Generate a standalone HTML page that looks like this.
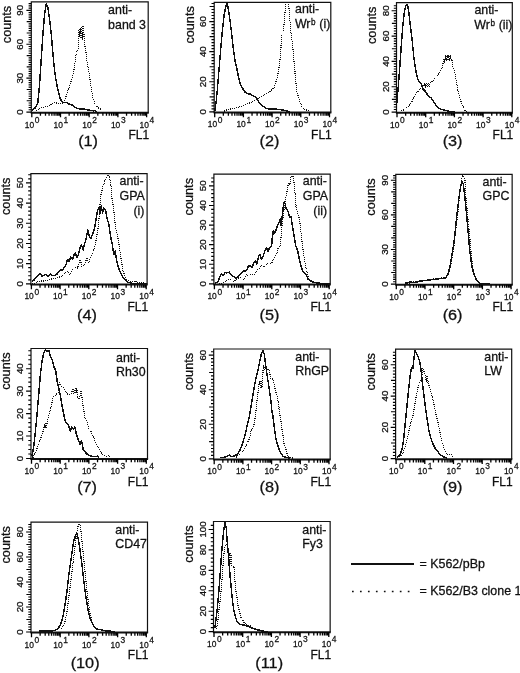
<!DOCTYPE html>
<html lang="en"><head><meta charset="utf-8"><title>Flow cytometry histograms</title>
<style>html,body{margin:0;padding:0;background:#fff}body{width:520px;height:673px;overflow:hidden}svg{display:block}text{font-family:"Liberation Sans", Arial, Helvetica, sans-serif;fill:#111;stroke:#111;stroke-width:0.28px}</style></head><body>
<svg width="520" height="673" viewBox="0 0 520 673">
<rect width="520" height="673" fill="#fff"/>
<g id="panel1">
<path d="M31.3 112.75 V1.9 H148.2 V112.75" fill="none" stroke="#111" stroke-width="1.2"/>
<path d="M30.7 112.7 H148.8" fill="none" stroke="#111" stroke-width="2"/>
<path d="M31.3 112.05h-4.9M31.3 109.79h-2.7M31.3 107.53h-2.7M31.3 105.27h-2.7M31.3 103.01h-2.7M31.3 100.75h-4.6M31.3 98.49h-2.7M31.3 96.23h-2.7M31.3 93.97h-2.7M31.3 91.71h-2.7M31.3 89.45h-4.6M31.3 87.19h-2.7M31.3 84.93h-2.7M31.3 82.67h-2.7M31.3 80.41h-2.7M31.3 78.15h-4.9M31.3 75.89h-2.7M31.3 73.63h-2.7M31.3 71.37h-2.7M31.3 69.11h-2.7M31.3 66.85h-4.6M31.3 64.59h-2.7M31.3 62.33h-2.7M31.3 60.07h-2.7M31.3 57.81h-2.7M31.3 55.55h-4.6M31.3 53.29h-2.7M31.3 51.03h-2.7M31.3 48.77h-2.7M31.3 46.51h-2.7M31.3 44.25h-4.9M31.3 41.99h-2.7M31.3 39.73h-2.7M31.3 37.47h-2.7M31.3 35.21h-2.7M31.3 32.95h-4.6M31.3 30.69h-2.7M31.3 28.43h-2.7M31.3 26.17h-2.7M31.3 23.91h-2.7M31.3 21.65h-4.6M31.3 19.39h-2.7M31.3 17.13h-2.7M31.3 14.87h-2.7M31.3 12.61h-2.7M31.3 10.35h-4.9M31.3 8.09h-2.7M31.3 5.83h-2.7M31.3 3.57h-2.7" fill="none" stroke="#000" stroke-width="1.15"/>
<path d="M31.8 112.75v4.6M40.44 112.75v3.1M45.49 112.75v3.1M49.08 112.75v3.1M51.86 112.75v3.1M54.13 112.75v3.1M56.05 112.75v3.1M57.72 112.75v3.1M59.19 112.75v3.1M60.5 112.75v4.6M69.14 112.75v3.1M74.19 112.75v3.1M77.78 112.75v3.1M80.56 112.75v3.1M82.83 112.75v3.1M84.75 112.75v3.1M86.42 112.75v3.1M87.89 112.75v3.1M89.2 112.75v4.6M97.84 112.75v3.1M102.89 112.75v3.1M106.48 112.75v3.1M109.26 112.75v3.1M111.53 112.75v3.1M113.45 112.75v3.1M115.12 112.75v3.1M116.59 112.75v3.1M117.9 112.75v4.6M126.54 112.75v3.1M131.59 112.75v3.1M135.18 112.75v3.1M137.96 112.75v3.1M140.23 112.75v3.1M142.15 112.75v3.1M143.82 112.75v3.1M145.29 112.75v3.1M146.6 112.75v4.6" fill="none" stroke="#000" stroke-width="1.3"/>
<text transform="translate(24.8 127.65) scale(0.86 1)" font-size="9.8">10</text>
<text transform="translate(34.8 122.75) scale(0.86 1)" font-size="9.8">0</text>
<text transform="translate(53.5 127.65) scale(0.86 1)" font-size="9.8">10</text>
<text transform="translate(63.5 122.75) scale(0.86 1)" font-size="9.8">1</text>
<text transform="translate(82.2 127.65) scale(0.86 1)" font-size="9.8">10</text>
<text transform="translate(92.2 122.75) scale(0.86 1)" font-size="9.8">2</text>
<text transform="translate(110.9 127.65) scale(0.86 1)" font-size="9.8">10</text>
<text transform="translate(120.9 122.75) scale(0.86 1)" font-size="9.8">3</text>
<text transform="translate(139.6 127.65) scale(0.86 1)" font-size="9.8">10</text>
<text transform="translate(149.6 122.75) scale(0.86 1)" font-size="9.8">4</text>
<text transform="translate(23.4 112.05) rotate(-90) scale(1 1)" text-anchor="middle" font-size="9.7">0</text>
<text transform="translate(23.4 78.15) rotate(-90) scale(1 1)" text-anchor="middle" font-size="9.7">30</text>
<text transform="translate(23.4 44.25) rotate(-90) scale(1 1)" text-anchor="middle" font-size="9.7">60</text>
<text transform="translate(23.4 10.35) rotate(-90) scale(1 1)" text-anchor="middle" font-size="9.7">90</text>
<text transform="translate(10.7 43.2) rotate(-90)" font-size="12.7">counts</text>
<text x="149.2" y="139.35" text-anchor="end" font-size="12">FL1</text>
<text transform="translate(88.1 146.2) scale(1.05 1)" text-anchor="middle" font-size="15.5">(1)</text>
<text x="108.1" y="13.7" font-size="12.4">anti-</text>
<text x="108.1" y="28.8" font-size="12.4">band 3</text>
<path d="M36.08 110.83 L38.63 108.63 L41.17 107.78 L44.56 106.93 L47.95 106.08 L51.34 104.39 L54.73 102.69 L58.12 103.2 L61.51 104.05 L64.05 101.85 L65.75 97.61 L67.44 92.53 L69.14 87.44 L70.83 82.36 L72.53 77.27 L74.22 68.8 L75.75 56.42 L76.59 52.53 L78.12 48.8 L78.29 31.85 L79.14 29.14 L79.64 37.27 L80.32 28.12 L81 38.63 L81.68 27.44 L82.36 39.64 L83.03 26.76 L83.54 26.42 L84.05 37.44 L84.73 45.07 L85.75 50.49 L86.42 56.93 L87.78 65.41 L89.47 75.58 L91.17 87.44 L92.86 97.61 L94.56 102.69 L97.1 106.93 L99.64 108.63 L102.19 109.47" fill="none" stroke="#111" stroke-width="1.2" stroke-dasharray="1 1" stroke-linejoin="round" shape-rendering="crispEdges"/>
<path d="M31.85 110.83 L35.24 107.78 L37.78 102.69 L39.47 85.75 L41.17 60.32 L42.86 34.9 L44.56 14.56 L46.25 3.54 L47.95 7.78 L49.64 19.64 L51.34 34.9 L53.03 55.24 L54.73 72.19 L56.42 82.36 L58.12 90.83 L59.81 97.61 L61.51 101 L63.2 102.69 L64.9 102.36 L66.59 102.69 L69.14 104.05 L71.68 104.73 L74.22 106.93 L76.76 108.12 L80.15 109.14 L83.54 108.8 L86.93 109.81 L90.32 110.32 L93.71 110.83 L95.41 110.32 L96.25 112.02" fill="none" stroke="#111" stroke-width="1.45" stroke-linejoin="round" shape-rendering="crispEdges"/>
</g>
<g id="panel2">
<path d="M214.2 112.55 V2.3 H330.8 V112.55" fill="none" stroke="#111" stroke-width="1.2"/>
<path d="M213.6 112.5 H331.4" fill="none" stroke="#111" stroke-width="2"/>
<path d="M214.2 111.85h-4.9M214.2 108.84h-2.7M214.2 105.83h-2.7M214.2 102.82h-2.7M214.2 99.81h-2.7M214.2 96.8h-4.6M214.2 93.79h-2.7M214.2 90.78h-2.7M214.2 87.77h-2.7M214.2 84.76h-2.7M214.2 81.75h-4.9M214.2 78.74h-2.7M214.2 75.73h-2.7M214.2 72.72h-2.7M214.2 69.71h-2.7M214.2 66.7h-4.6M214.2 63.69h-2.7M214.2 60.68h-2.7M214.2 57.67h-2.7M214.2 54.66h-2.7M214.2 51.65h-4.9M214.2 48.64h-2.7M214.2 45.63h-2.7M214.2 42.62h-2.7M214.2 39.61h-2.7M214.2 36.6h-4.6M214.2 33.59h-2.7M214.2 30.58h-2.7M214.2 27.57h-2.7M214.2 24.56h-2.7M214.2 21.55h-4.9M214.2 18.54h-2.7M214.2 15.53h-2.7M214.2 12.52h-2.7M214.2 9.51h-2.7M214.2 6.5h-4.6M214.2 3.49h-2.7" fill="none" stroke="#000" stroke-width="1.15"/>
<path d="M214.7 112.55v4.6M223.34 112.55v3.1M228.39 112.55v3.1M231.98 112.55v3.1M234.76 112.55v3.1M237.03 112.55v3.1M238.95 112.55v3.1M240.62 112.55v3.1M242.09 112.55v3.1M243.4 112.55v4.6M252.04 112.55v3.1M257.09 112.55v3.1M260.68 112.55v3.1M263.46 112.55v3.1M265.73 112.55v3.1M267.65 112.55v3.1M269.32 112.55v3.1M270.79 112.55v3.1M272.1 112.55v4.6M280.74 112.55v3.1M285.79 112.55v3.1M289.38 112.55v3.1M292.16 112.55v3.1M294.43 112.55v3.1M296.35 112.55v3.1M298.02 112.55v3.1M299.49 112.55v3.1M300.8 112.55v4.6M309.44 112.55v3.1M314.49 112.55v3.1M318.08 112.55v3.1M320.86 112.55v3.1M323.13 112.55v3.1M325.05 112.55v3.1M326.72 112.55v3.1M328.19 112.55v3.1M329.5 112.55v4.6" fill="none" stroke="#000" stroke-width="1.3"/>
<text transform="translate(207.7 127.45) scale(0.86 1)" font-size="9.8">10</text>
<text transform="translate(217.7 122.55) scale(0.86 1)" font-size="9.8">0</text>
<text transform="translate(236.4 127.45) scale(0.86 1)" font-size="9.8">10</text>
<text transform="translate(246.4 122.55) scale(0.86 1)" font-size="9.8">1</text>
<text transform="translate(265.1 127.45) scale(0.86 1)" font-size="9.8">10</text>
<text transform="translate(275.1 122.55) scale(0.86 1)" font-size="9.8">2</text>
<text transform="translate(293.8 127.45) scale(0.86 1)" font-size="9.8">10</text>
<text transform="translate(303.8 122.55) scale(0.86 1)" font-size="9.8">3</text>
<text transform="translate(322.5 127.45) scale(0.86 1)" font-size="9.8">10</text>
<text transform="translate(332.5 122.55) scale(0.86 1)" font-size="9.8">4</text>
<text transform="translate(206.3 111.85) rotate(-90) scale(1 1)" text-anchor="middle" font-size="9.7">0</text>
<text transform="translate(206.3 81.75) rotate(-90) scale(1 1)" text-anchor="middle" font-size="9.7">20</text>
<text transform="translate(206.3 51.65) rotate(-90) scale(1 1)" text-anchor="middle" font-size="9.7">40</text>
<text transform="translate(206.3 21.55) rotate(-90) scale(1 1)" text-anchor="middle" font-size="9.7">60</text>
<text transform="translate(193.6 43.6) rotate(-90)" font-size="12.7">counts</text>
<text x="331.8" y="139.15" text-anchor="end" font-size="12">FL1</text>
<text transform="translate(269.5 146.2) scale(1.05 1)" text-anchor="middle" font-size="15.5">(2)</text>
<text x="295" y="12.8" font-size="12.4">anti-</text>
<text x="294.9" y="28" font-size="12.4">Wr<tspan dy="-3.0" dx="0.5" font-size="8.2">b</tspan><tspan dy="3.0" dx="0.3"> (i)</tspan></text>
<path d="M224.17 111.17 L227.56 109.47 L232.64 108.63 L237.73 107.44 L242.81 106.08 L247.9 103.54 L252.98 101.85 L258.07 98.46 L263.15 95.92 L268.24 92.53 L271.63 89.98 L274 87.44 L275.69 82.36 L277.39 77.27 L278.75 68.8 L279.93 60.32 L280.78 50.15 L281.63 34.9 L283.32 31.51 L284.51 17.95 L285.53 6.08 L286.2 2.36 L288.41 2.36 L289.25 11.17 L290.1 21.34 L290.95 33.2 L292.31 43.37 L293.49 55.24 L294.68 68.8 L295.69 80.66 L296.88 92.53 L298.58 97.61 L300.27 102.69 L301.97 106.93 L304.51 109.47 L307.9 110.32 L310.44 111.17" fill="none" stroke="#111" stroke-width="1.2" stroke-dasharray="1 1" stroke-linejoin="round" shape-rendering="crispEdges"/>
<path d="M214.85 111.17 L216.03 102.69 L217.39 89.14 L219.08 68.8 L220.78 48.46 L222.47 29.81 L224.17 14.56 L225.86 6.08 L227.05 2.69 L228.41 9.47 L230.1 21.34 L231.8 34.9 L233.49 50.15 L235.19 62.02 L236.88 68.8 L238.58 77.27 L240.27 84.05 L241.97 87.44 L243.66 89.98 L245.36 92.53 L247.9 93.88 L250.44 94.22 L252.98 95.92 L255.53 96.76 L257.22 99.31 L258.92 102.69 L261.46 104.73 L264 106.93 L266.54 108.63 L269.93 108.97 L274 108.97 L279.08 109.47 L284.17 110.32 L287.56 111.17 L290.1 111.51" fill="none" stroke="#111" stroke-width="1.45" stroke-linejoin="round" shape-rendering="crispEdges"/>
</g>
<g id="panel3">
<path d="M396.5 112.75 V2.7 H512.3 V112.75" fill="none" stroke="#111" stroke-width="1.2"/>
<path d="M395.9 112.7 H512.9" fill="none" stroke="#111" stroke-width="2"/>
<path d="M396.5 112.05h-4.9M396.5 109.52h-2.7M396.5 106.99h-2.7M396.5 104.45h-2.7M396.5 101.92h-2.7M396.5 99.39h-4.6M396.5 96.86h-2.7M396.5 94.33h-2.7M396.5 91.79h-2.7M396.5 89.26h-2.7M396.5 86.73h-4.9M396.5 84.2h-2.7M396.5 81.67h-2.7M396.5 79.13h-2.7M396.5 76.6h-2.7M396.5 74.07h-4.6M396.5 71.54h-2.7M396.5 69.01h-2.7M396.5 66.47h-2.7M396.5 63.94h-2.7M396.5 61.41h-4.9M396.5 58.88h-2.7M396.5 56.35h-2.7M396.5 53.81h-2.7M396.5 51.28h-2.7M396.5 48.75h-4.6M396.5 46.22h-2.7M396.5 43.69h-2.7M396.5 41.15h-2.7M396.5 38.62h-2.7M396.5 36.09h-4.9M396.5 33.56h-2.7M396.5 31.03h-2.7M396.5 28.49h-2.7M396.5 25.96h-2.7M396.5 23.43h-4.6M396.5 20.9h-2.7M396.5 18.37h-2.7M396.5 15.83h-2.7M396.5 13.3h-2.7M396.5 10.77h-4.9M396.5 8.24h-2.7M396.5 5.71h-2.7" fill="none" stroke="#000" stroke-width="1.15"/>
<path d="M397 112.75v4.6M405.64 112.75v3.1M410.69 112.75v3.1M414.28 112.75v3.1M417.06 112.75v3.1M419.33 112.75v3.1M421.25 112.75v3.1M422.92 112.75v3.1M424.39 112.75v3.1M425.7 112.75v4.6M434.34 112.75v3.1M439.39 112.75v3.1M442.98 112.75v3.1M445.76 112.75v3.1M448.03 112.75v3.1M449.95 112.75v3.1M451.62 112.75v3.1M453.09 112.75v3.1M454.4 112.75v4.6M463.04 112.75v3.1M468.09 112.75v3.1M471.68 112.75v3.1M474.46 112.75v3.1M476.73 112.75v3.1M478.65 112.75v3.1M480.32 112.75v3.1M481.79 112.75v3.1M483.1 112.75v4.6M491.74 112.75v3.1M496.79 112.75v3.1M500.38 112.75v3.1M503.16 112.75v3.1M505.43 112.75v3.1M507.35 112.75v3.1M509.02 112.75v3.1M510.49 112.75v3.1M511.8 112.75v4.6" fill="none" stroke="#000" stroke-width="1.3"/>
<text transform="translate(390 127.65) scale(0.86 1)" font-size="9.8">10</text>
<text transform="translate(400 122.75) scale(0.86 1)" font-size="9.8">0</text>
<text transform="translate(418.7 127.65) scale(0.86 1)" font-size="9.8">10</text>
<text transform="translate(428.7 122.75) scale(0.86 1)" font-size="9.8">1</text>
<text transform="translate(447.4 127.65) scale(0.86 1)" font-size="9.8">10</text>
<text transform="translate(457.4 122.75) scale(0.86 1)" font-size="9.8">2</text>
<text transform="translate(476.1 127.65) scale(0.86 1)" font-size="9.8">10</text>
<text transform="translate(486.1 122.75) scale(0.86 1)" font-size="9.8">3</text>
<text transform="translate(504.8 127.65) scale(0.86 1)" font-size="9.8">10</text>
<text transform="translate(514.8 122.75) scale(0.86 1)" font-size="9.8">4</text>
<text transform="translate(388.6 112.05) rotate(-90) scale(1 1)" text-anchor="middle" font-size="9.7">0</text>
<text transform="translate(388.6 86.73) rotate(-90) scale(1 1)" text-anchor="middle" font-size="9.7">20</text>
<text transform="translate(388.6 61.41) rotate(-90) scale(1 1)" text-anchor="middle" font-size="9.7">40</text>
<text transform="translate(388.6 36.09) rotate(-90) scale(1 1)" text-anchor="middle" font-size="9.7">60</text>
<text transform="translate(388.6 10.77) rotate(-90) scale(1 1)" text-anchor="middle" font-size="9.7">80</text>
<text transform="translate(375.9 44) rotate(-90)" font-size="12.7">counts</text>
<text x="513.3" y="139.35" text-anchor="end" font-size="12">FL1</text>
<text transform="translate(452.6 146.2) scale(1.05 1)" text-anchor="middle" font-size="15.5">(3)</text>
<text x="474.4" y="14.1" font-size="12.4">anti-</text>
<text x="474.3" y="29.1" font-size="12.4">Wr<tspan dy="-3.0" dx="0.5" font-size="8.2">b</tspan><tspan dy="3.0" dx="0.3"> (ii)</tspan></text>
<path d="M401.08 110.83 L404.47 109.47 L407.86 106.93 L411.25 102.69 L413.8 97.61 L416.34 93.37 L419.73 89.14 L423.12 86.59 L424.47 83.71 L425.32 87.1 L426.17 83.37 L427.19 87.1 L428.2 83.03 L429.22 86.76 L430.24 82.69 L431.59 82.36 L434.14 78.97 L437.53 75.58 L440.41 71.34 L442.61 67.1 L443.46 59.47 L444.14 58.97 L444.81 62.02 L445.49 55.92 L446.34 61.34 L447.19 55.24 L448.03 60.66 L448.88 55.24 L449.73 60.32 L450.58 55.58 L451.59 59.47 L451.93 59.47 L452.78 67.1 L454.47 70.49 L455.66 77.27 L457.02 85.75 L458.71 94.22 L460.41 99.31 L462.1 104.39 L463.8 108.63 L465.49 110.83 L467.19 111.51" fill="none" stroke="#111" stroke-width="1.2" stroke-dasharray="1 1" stroke-linejoin="round" shape-rendering="crispEdges"/>
<path d="M396.85 102.69 L398.03 89.14 L399.39 72.19 L401.08 48.46 L402.78 26.42 L404.47 11.17 L405.83 5.75 L407.53 4.73 L408.71 11.17 L410.41 26.42 L412.1 39.98 L413.8 56.93 L415.49 68.8 L417.19 77.27 L418.88 81.51 L421.42 84.05 L423.12 89.14 L425.66 91.68 L428.2 95.92 L430.75 97.61 L433.29 101 L435.83 105.24 L438.37 107.78 L440.92 109.47 L444.31 109.98 L447.69 110.83 L450.24 111.51 L452.78 112.02 L455.32 111.51" fill="none" stroke="#111" stroke-width="1.45" stroke-linejoin="round" shape-rendering="crispEdges"/>
</g>
<g id="panel4">
<path d="M30.9 284.55 V173.7 H147.1 V284.55" fill="none" stroke="#111" stroke-width="1.2"/>
<path d="M30.3 284.5 H147.7" fill="none" stroke="#111" stroke-width="2"/>
<path d="M30.9 283.85h-4.9M30.9 279.81h-2.7M30.9 275.77h-2.7M30.9 271.73h-2.7M30.9 267.69h-2.7M30.9 263.65h-4.9M30.9 259.61h-2.7M30.9 255.57h-2.7M30.9 251.53h-2.7M30.9 247.49h-2.7M30.9 243.45h-4.9M30.9 239.41h-2.7M30.9 235.37h-2.7M30.9 231.33h-2.7M30.9 227.29h-2.7M30.9 223.25h-4.9M30.9 219.21h-2.7M30.9 215.17h-2.7M30.9 211.13h-2.7M30.9 207.09h-2.7M30.9 203.05h-4.9M30.9 199.01h-2.7M30.9 194.97h-2.7M30.9 190.93h-2.7M30.9 186.89h-2.7M30.9 182.85h-4.9M30.9 178.81h-2.7M30.9 174.77h-2.7" fill="none" stroke="#000" stroke-width="1.15"/>
<path d="M31.4 284.55v4.6M40.04 284.55v3.1M45.09 284.55v3.1M48.68 284.55v3.1M51.46 284.55v3.1M53.73 284.55v3.1M55.65 284.55v3.1M57.32 284.55v3.1M58.79 284.55v3.1M60.1 284.55v4.6M68.74 284.55v3.1M73.79 284.55v3.1M77.38 284.55v3.1M80.16 284.55v3.1M82.43 284.55v3.1M84.35 284.55v3.1M86.02 284.55v3.1M87.49 284.55v3.1M88.8 284.55v4.6M97.44 284.55v3.1M102.49 284.55v3.1M106.08 284.55v3.1M108.86 284.55v3.1M111.13 284.55v3.1M113.05 284.55v3.1M114.72 284.55v3.1M116.19 284.55v3.1M117.5 284.55v4.6M126.14 284.55v3.1M131.19 284.55v3.1M134.78 284.55v3.1M137.56 284.55v3.1M139.83 284.55v3.1M141.75 284.55v3.1M143.42 284.55v3.1M144.89 284.55v3.1M146.2 284.55v4.6" fill="none" stroke="#000" stroke-width="1.3"/>
<text transform="translate(24.4 299.45) scale(0.86 1)" font-size="9.8">10</text>
<text transform="translate(34.4 294.55) scale(0.86 1)" font-size="9.8">0</text>
<text transform="translate(53.1 299.45) scale(0.86 1)" font-size="9.8">10</text>
<text transform="translate(63.1 294.55) scale(0.86 1)" font-size="9.8">1</text>
<text transform="translate(81.8 299.45) scale(0.86 1)" font-size="9.8">10</text>
<text transform="translate(91.8 294.55) scale(0.86 1)" font-size="9.8">2</text>
<text transform="translate(110.5 299.45) scale(0.86 1)" font-size="9.8">10</text>
<text transform="translate(120.5 294.55) scale(0.86 1)" font-size="9.8">3</text>
<text transform="translate(139.2 299.45) scale(0.86 1)" font-size="9.8">10</text>
<text transform="translate(149.2 294.55) scale(0.86 1)" font-size="9.8">4</text>
<text transform="translate(23 283.85) rotate(-90) scale(1 1)" text-anchor="middle" font-size="9.7">0</text>
<text transform="translate(23 263.65) rotate(-90) scale(1 1)" text-anchor="middle" font-size="9.7">10</text>
<text transform="translate(23 243.45) rotate(-90) scale(1 1)" text-anchor="middle" font-size="9.7">20</text>
<text transform="translate(23 223.25) rotate(-90) scale(1 1)" text-anchor="middle" font-size="9.7">30</text>
<text transform="translate(23 203.05) rotate(-90) scale(1 1)" text-anchor="middle" font-size="9.7">40</text>
<text transform="translate(23 182.85) rotate(-90) scale(1 1)" text-anchor="middle" font-size="9.7">50</text>
<text transform="translate(10.3 215) rotate(-90)" font-size="12.7">counts</text>
<text x="148.1" y="311.15" text-anchor="end" font-size="12">FL1</text>
<text transform="translate(87 320) scale(1.05 1)" text-anchor="middle" font-size="15.5">(4)</text>
<text x="119.5" y="184.6" font-size="12.4">anti-</text>
<text x="119.5" y="199.5" font-size="12.4">GPA</text>
<text x="133.4" y="214.5" font-size="12.4">(i)</text>
<path d="M31.85 284.02 L36.08 282.32 L41.17 281.14 L46.25 280.63 L51.34 278.93 L56.42 278.08 L61.51 276.39 L64.9 273 L67.44 271.31 L69.98 274.69 L72.53 269.61 L75.07 267.07 L77.61 267.92 L80.15 259.44 L81.85 266.22 L84.39 265.37 L86.93 257.75 L88.63 262.83 L91 256.05 L93.54 250.97 L95.24 244.19 L96.93 235.71 L98.63 223.85 L99.81 206.9 L101.17 193.34 L102.53 188.25 L104.56 181.47 L106.25 178.08 L107.95 174.69 L109.64 178.08 L111 186.56 L112.02 198.42 L113.2 205.2 L114.56 218.76 L115.75 228.93 L117.1 234.02 L118.97 244.19 L120.66 256.05 L122.69 269.61 L124.9 276.39 L127.44 279.78 L130.83 281.47 L135.07 281.14 L140.15 282.83 L145.24 283.17" fill="none" stroke="#111" stroke-width="1.2" stroke-dasharray="1 1" stroke-linejoin="round" shape-rendering="crispEdges"/>
<path d="M31.85 281.47 L34.39 279.78 L36.93 276.39 L38.63 274.69 L40.32 273.85 L42.02 276.39 L43.71 275.54 L46.25 274.36 L47.95 276.73 L50.49 273.85 L52.19 275.54 L54.73 275.54 L57.27 273.85 L58.97 271.31 L60.66 269.61 L62.36 270.46 L64.05 267.07 L65.75 265.37 L67.44 259.44 L69.14 261.14 L70.83 256.9 L72.53 259.44 L74.22 254.36 L75.41 252.66 L76.76 257.75 L78.46 254.36 L80.15 247.58 L81.51 245.03 L83.2 250.12 L84.39 244.19 L86.08 239.1 L87.78 229.78 L89.47 237.41 L91 238.25 L92.69 234.02 L94.39 228.93 L96.08 218.76 L97.78 209.44 L99.14 207.75 L99.81 213.68 L101.17 206.05 L102.53 212.83 L103.71 207.75 L105.41 209.44 L107.1 218.76 L108.8 223.85 L110.49 235.71 L112.19 244.19 L113.88 254.36 L115.07 250.97 L116.42 259.44 L118.12 266.22 L119.81 271.31 L122.36 276.39 L124.9 279.78 L128.29 282.32 L133.37 283.51 L140.15 284.02 L146.93 284.02" fill="none" stroke="#111" stroke-width="1.45" stroke-linejoin="round" shape-rendering="crispEdges"/>
</g>
<g id="panel5">
<path d="M213.9 284.55 V174.1 H330.2 V284.55" fill="none" stroke="#111" stroke-width="1.2"/>
<path d="M213.3 284.5 H330.8" fill="none" stroke="#111" stroke-width="2"/>
<path d="M213.9 283.85h-4.9M213.9 279.93h-2.7M213.9 276.01h-2.7M213.9 272.09h-2.7M213.9 268.17h-2.7M213.9 264.25h-4.9M213.9 260.33h-2.7M213.9 256.41h-2.7M213.9 252.49h-2.7M213.9 248.57h-2.7M213.9 244.65h-4.9M213.9 240.73h-2.7M213.9 236.81h-2.7M213.9 232.89h-2.7M213.9 228.97h-2.7M213.9 225.05h-4.9M213.9 221.13h-2.7M213.9 217.21h-2.7M213.9 213.29h-2.7M213.9 209.37h-2.7M213.9 205.45h-4.9M213.9 201.53h-2.7M213.9 197.61h-2.7M213.9 193.69h-2.7M213.9 189.77h-2.7M213.9 185.85h-4.9M213.9 181.93h-2.7M213.9 178.01h-2.7" fill="none" stroke="#000" stroke-width="1.15"/>
<path d="M214.4 284.55v4.6M223.04 284.55v3.1M228.09 284.55v3.1M231.68 284.55v3.1M234.46 284.55v3.1M236.73 284.55v3.1M238.65 284.55v3.1M240.32 284.55v3.1M241.79 284.55v3.1M243.1 284.55v4.6M251.74 284.55v3.1M256.79 284.55v3.1M260.38 284.55v3.1M263.16 284.55v3.1M265.43 284.55v3.1M267.35 284.55v3.1M269.02 284.55v3.1M270.49 284.55v3.1M271.8 284.55v4.6M280.44 284.55v3.1M285.49 284.55v3.1M289.08 284.55v3.1M291.86 284.55v3.1M294.13 284.55v3.1M296.05 284.55v3.1M297.72 284.55v3.1M299.19 284.55v3.1M300.5 284.55v4.6M309.14 284.55v3.1M314.19 284.55v3.1M317.78 284.55v3.1M320.56 284.55v3.1M322.83 284.55v3.1M324.75 284.55v3.1M326.42 284.55v3.1M327.89 284.55v3.1M329.2 284.55v4.6" fill="none" stroke="#000" stroke-width="1.3"/>
<text transform="translate(207.4 299.45) scale(0.86 1)" font-size="9.8">10</text>
<text transform="translate(217.4 294.55) scale(0.86 1)" font-size="9.8">0</text>
<text transform="translate(236.1 299.45) scale(0.86 1)" font-size="9.8">10</text>
<text transform="translate(246.1 294.55) scale(0.86 1)" font-size="9.8">1</text>
<text transform="translate(264.8 299.45) scale(0.86 1)" font-size="9.8">10</text>
<text transform="translate(274.8 294.55) scale(0.86 1)" font-size="9.8">2</text>
<text transform="translate(293.5 299.45) scale(0.86 1)" font-size="9.8">10</text>
<text transform="translate(303.5 294.55) scale(0.86 1)" font-size="9.8">3</text>
<text transform="translate(322.2 299.45) scale(0.86 1)" font-size="9.8">10</text>
<text transform="translate(332.2 294.55) scale(0.86 1)" font-size="9.8">4</text>
<text transform="translate(206 283.85) rotate(-90) scale(1 1)" text-anchor="middle" font-size="9.7">0</text>
<text transform="translate(206 264.25) rotate(-90) scale(1 1)" text-anchor="middle" font-size="9.7">10</text>
<text transform="translate(206 244.65) rotate(-90) scale(1 1)" text-anchor="middle" font-size="9.7">20</text>
<text transform="translate(206 225.05) rotate(-90) scale(1 1)" text-anchor="middle" font-size="9.7">30</text>
<text transform="translate(206 205.45) rotate(-90) scale(1 1)" text-anchor="middle" font-size="9.7">40</text>
<text transform="translate(206 185.85) rotate(-90) scale(1 1)" text-anchor="middle" font-size="9.7">50</text>
<text transform="translate(193.3 215.4) rotate(-90)" font-size="12.7">counts</text>
<text x="331.2" y="311.15" text-anchor="end" font-size="12">FL1</text>
<text transform="translate(269.5 320) scale(1.05 1)" text-anchor="middle" font-size="15.5">(5)</text>
<text x="302.8" y="184.8" font-size="12.4">anti-</text>
<text x="302.8" y="199.8" font-size="12.4">GPA</text>
<text x="313.3" y="214.5" font-size="12.4">(ii)</text>
<path d="M219.08 284.02 L222.47 282.83 L225.86 281.47 L229.25 278.93 L231.8 279.78 L234.34 281.47 L237.73 278.08 L241.12 277.24 L243.66 279.78 L246.2 274.69 L248.75 276.39 L251.29 273.85 L253.83 274.69 L256.37 271.31 L258.92 268.76 L261.46 265.37 L264 267.07 L266.54 264.53 L269.08 261.98 L271.63 263.68 L274 257.75 L276.54 254.36 L278.24 247.58 L280.44 245.88 L281.63 228.93 L283.32 215.37 L285.02 201.81 L286.71 193.34 L288.41 183.17 L290.1 184.86 L290.95 177.24 L292.98 175.54 L294.34 184.86 L295.19 195.03 L296.03 206.9 L297.73 213.68 L299.42 218.76 L300.78 230.63 L301.97 240.8 L303.66 254.36 L305.36 264.53 L307.05 273 L308.75 278.93 L311.29 281.47 L316.37 282.32 L321.46 283.17 L328.24 283.51" fill="none" stroke="#111" stroke-width="1.2" stroke-dasharray="1 1" stroke-linejoin="round" shape-rendering="crispEdges"/>
<path d="M214.85 283.17 L218.24 281.47 L219.93 276.39 L221.63 273.85 L223.32 275.54 L225.02 272.15 L226.71 273 L229.25 272.15 L230.95 274.69 L233.49 276.39 L236.03 278.08 L238.58 276.39 L241.12 273.85 L243.66 270.46 L245.36 271.31 L247.05 269.61 L248.75 265.37 L250.44 266.22 L252.14 267.07 L253.83 262.83 L255.53 260.29 L256.71 264.53 L258.41 256.9 L259.76 254.36 L261.46 259.44 L263.15 256.05 L264.85 250.97 L266.54 247.58 L267.9 251.81 L269.59 247.58 L271.63 245.88 L272.47 235.71 L273.32 230.63 L274 231.47 L274 234.02 L275.69 231.47 L277.39 225.54 L279.08 222.15 L280.44 218.76 L281.12 225.54 L282.47 213.68 L283.83 202.66 L285.02 203.51 L286.2 208.59 L287.9 211.14 L289.59 217.07 L290.95 216.22 L292.31 225.54 L294 235.71 L295.69 245.88 L297.73 250.97 L299.42 259.44 L301.12 266.22 L302.81 271.31 L304.51 273 L306.2 274.69 L307.9 278.93 L310.44 280.63 L312.98 282.32 L318.07 283.17 L324.85 283.51 L329.93 284.02" fill="none" stroke="#111" stroke-width="1.45" stroke-linejoin="round" shape-rendering="crispEdges"/>
</g>
<g id="panel6">
<path d="M395.8 284.75 V174.4 H512.15 V284.75" fill="none" stroke="#111" stroke-width="1.2"/>
<path d="M395.2 284.7 H512.75" fill="none" stroke="#111" stroke-width="2"/>
<path d="M395.8 284.05h-4.9M395.8 281.74h-2.7M395.8 279.44h-2.7M395.8 277.13h-2.7M395.8 274.83h-2.7M395.8 272.52h-4.6M395.8 270.21h-2.7M395.8 267.91h-2.7M395.8 265.6h-2.7M395.8 263.3h-2.7M395.8 260.99h-4.6M395.8 258.68h-2.7M395.8 256.38h-2.7M395.8 254.07h-2.7M395.8 251.77h-2.7M395.8 249.46h-4.9M395.8 247.15h-2.7M395.8 244.85h-2.7M395.8 242.54h-2.7M395.8 240.24h-2.7M395.8 237.93h-4.6M395.8 235.62h-2.7M395.8 233.32h-2.7M395.8 231.01h-2.7M395.8 228.71h-2.7M395.8 226.4h-4.6M395.8 224.09h-2.7M395.8 221.79h-2.7M395.8 219.48h-2.7M395.8 217.18h-2.7M395.8 214.87h-4.9M395.8 212.56h-2.7M395.8 210.26h-2.7M395.8 207.95h-2.7M395.8 205.65h-2.7M395.8 203.34h-4.6M395.8 201.03h-2.7M395.8 198.73h-2.7M395.8 196.42h-2.7M395.8 194.12h-2.7M395.8 191.81h-4.6M395.8 189.5h-2.7M395.8 187.2h-2.7M395.8 184.89h-2.7M395.8 182.59h-2.7M395.8 180.28h-4.9M395.8 177.97h-2.7M395.8 175.67h-2.7" fill="none" stroke="#000" stroke-width="1.15"/>
<path d="M396.3 284.75v4.6M404.94 284.75v3.1M409.99 284.75v3.1M413.58 284.75v3.1M416.36 284.75v3.1M418.63 284.75v3.1M420.55 284.75v3.1M422.22 284.75v3.1M423.69 284.75v3.1M425 284.75v4.6M433.64 284.75v3.1M438.69 284.75v3.1M442.28 284.75v3.1M445.06 284.75v3.1M447.33 284.75v3.1M449.25 284.75v3.1M450.92 284.75v3.1M452.39 284.75v3.1M453.7 284.75v4.6M462.34 284.75v3.1M467.39 284.75v3.1M470.98 284.75v3.1M473.76 284.75v3.1M476.03 284.75v3.1M477.95 284.75v3.1M479.62 284.75v3.1M481.09 284.75v3.1M482.4 284.75v4.6M491.04 284.75v3.1M496.09 284.75v3.1M499.68 284.75v3.1M502.46 284.75v3.1M504.73 284.75v3.1M506.65 284.75v3.1M508.32 284.75v3.1M509.79 284.75v3.1M511.1 284.75v4.6" fill="none" stroke="#000" stroke-width="1.3"/>
<text transform="translate(389.3 299.65) scale(0.86 1)" font-size="9.8">10</text>
<text transform="translate(399.3 294.75) scale(0.86 1)" font-size="9.8">0</text>
<text transform="translate(418 299.65) scale(0.86 1)" font-size="9.8">10</text>
<text transform="translate(428 294.75) scale(0.86 1)" font-size="9.8">1</text>
<text transform="translate(446.7 299.65) scale(0.86 1)" font-size="9.8">10</text>
<text transform="translate(456.7 294.75) scale(0.86 1)" font-size="9.8">2</text>
<text transform="translate(475.4 299.65) scale(0.86 1)" font-size="9.8">10</text>
<text transform="translate(485.4 294.75) scale(0.86 1)" font-size="9.8">3</text>
<text transform="translate(504.1 299.65) scale(0.86 1)" font-size="9.8">10</text>
<text transform="translate(514.1 294.75) scale(0.86 1)" font-size="9.8">4</text>
<text transform="translate(387.9 284.05) rotate(-90) scale(1 1)" text-anchor="middle" font-size="9.7">0</text>
<text transform="translate(387.9 249.46) rotate(-90) scale(1 1)" text-anchor="middle" font-size="9.7">30</text>
<text transform="translate(387.9 214.87) rotate(-90) scale(1 1)" text-anchor="middle" font-size="9.7">60</text>
<text transform="translate(387.9 180.28) rotate(-90) scale(1 1)" text-anchor="middle" font-size="9.7">90</text>
<text transform="translate(375.2 215.7) rotate(-90)" font-size="12.7">counts</text>
<text x="513.15" y="311.35" text-anchor="end" font-size="12">FL1</text>
<text transform="translate(452.6 320) scale(1.05 1)" text-anchor="middle" font-size="15.5">(6)</text>
<text x="482.5" y="185.5" font-size="12.4">anti-</text>
<text x="482.5" y="200.2" font-size="12.4">GPC</text>
<path d="M405.23 284.23 L412.15 282.38 L419.08 281 L426 280.54 L432.92 279.15 L439.85 278.23 L445.62 277.31 L448.62 274.54 L450.92 265.31 L453.23 251.46 L454.85 237.62 L457.15 219.15 L458.77 203 L460.62 184.54 L462.46 175.77 L464.77 177.62 L465.69 196.08 L467.54 214.54 L469.38 233 L471.23 253.77 L473.08 269.92 L475.62 279.15 L479.08 283.31" fill="none" stroke="#111" stroke-width="1.2" stroke-dasharray="1 1" stroke-linejoin="round" shape-rendering="crispEdges"/>
<path d="M405.23 283.31 L409.85 281.92 L414.46 282.62 L419.08 281.46 L426 280.31 L432.92 279.62 L439.85 278.69 L445.62 278 L447.92 274.54 L450.23 265.31 L452.54 251.46 L454.85 235.31 L456.46 219.15 L458.31 203 L460.15 189.15 L461.77 181.08 L463.38 184.54 L464.77 196.08 L466.38 212.23 L468 230.69 L469.85 251.46 L471.69 265.31 L474 274.54 L476.77 280.31 L480.23 283.31 L483.69 284.23 L487.15 283.31 L490.62 284.69" fill="none" stroke="#111" stroke-width="1.45" stroke-linejoin="round" shape-rendering="crispEdges"/>
</g>
<g id="panel7">
<path d="M31 459.15 V348.5 H147.5 V459.15" fill="none" stroke="#111" stroke-width="1.2"/>
<path d="M30.4 459.1 H148.1" fill="none" stroke="#111" stroke-width="2"/>
<path d="M31 458.45h-4.9M31 453.96h-2.7M31 449.48h-2.7M31 444.99h-2.7M31 440.51h-2.7M31 436.02h-4.9M31 431.53h-2.7M31 427.05h-2.7M31 422.56h-2.7M31 418.08h-2.7M31 413.59h-4.9M31 409.1h-2.7M31 404.62h-2.7M31 400.13h-2.7M31 395.65h-2.7M31 391.16h-4.9M31 386.67h-2.7M31 382.19h-2.7M31 377.7h-2.7M31 373.22h-2.7M31 368.73h-4.9M31 364.24h-2.7M31 359.76h-2.7M31 355.27h-2.7M31 350.79h-2.7" fill="none" stroke="#000" stroke-width="1.15"/>
<path d="M31.5 459.15v4.6M40.14 459.15v3.1M45.19 459.15v3.1M48.78 459.15v3.1M51.56 459.15v3.1M53.83 459.15v3.1M55.75 459.15v3.1M57.42 459.15v3.1M58.89 459.15v3.1M60.2 459.15v4.6M68.84 459.15v3.1M73.89 459.15v3.1M77.48 459.15v3.1M80.26 459.15v3.1M82.53 459.15v3.1M84.45 459.15v3.1M86.12 459.15v3.1M87.59 459.15v3.1M88.9 459.15v4.6M97.54 459.15v3.1M102.59 459.15v3.1M106.18 459.15v3.1M108.96 459.15v3.1M111.23 459.15v3.1M113.15 459.15v3.1M114.82 459.15v3.1M116.29 459.15v3.1M117.6 459.15v4.6M126.24 459.15v3.1M131.29 459.15v3.1M134.88 459.15v3.1M137.66 459.15v3.1M139.93 459.15v3.1M141.85 459.15v3.1M143.52 459.15v3.1M144.99 459.15v3.1M146.3 459.15v4.6" fill="none" stroke="#000" stroke-width="1.3"/>
<text transform="translate(24.5 474.05) scale(0.86 1)" font-size="9.8">10</text>
<text transform="translate(34.5 469.15) scale(0.86 1)" font-size="9.8">0</text>
<text transform="translate(53.2 474.05) scale(0.86 1)" font-size="9.8">10</text>
<text transform="translate(63.2 469.15) scale(0.86 1)" font-size="9.8">1</text>
<text transform="translate(81.9 474.05) scale(0.86 1)" font-size="9.8">10</text>
<text transform="translate(91.9 469.15) scale(0.86 1)" font-size="9.8">2</text>
<text transform="translate(110.6 474.05) scale(0.86 1)" font-size="9.8">10</text>
<text transform="translate(120.6 469.15) scale(0.86 1)" font-size="9.8">3</text>
<text transform="translate(139.3 474.05) scale(0.86 1)" font-size="9.8">10</text>
<text transform="translate(149.3 469.15) scale(0.86 1)" font-size="9.8">4</text>
<text transform="translate(23.1 458.45) rotate(-90) scale(1 1)" text-anchor="middle" font-size="9.7">0</text>
<text transform="translate(23.1 436.02) rotate(-90) scale(1 1)" text-anchor="middle" font-size="9.7">10</text>
<text transform="translate(23.1 413.59) rotate(-90) scale(1 1)" text-anchor="middle" font-size="9.7">20</text>
<text transform="translate(23.1 391.16) rotate(-90) scale(1 1)" text-anchor="middle" font-size="9.7">30</text>
<text transform="translate(23.1 368.73) rotate(-90) scale(1 1)" text-anchor="middle" font-size="9.7">40</text>
<text transform="translate(10.4 389.8) rotate(-90)" font-size="12.7">counts</text>
<text x="148.5" y="485.75" text-anchor="end" font-size="12">FL1</text>
<text transform="translate(87.1 492.2) scale(1.05 1)" text-anchor="middle" font-size="15.5">(7)</text>
<text x="116" y="361.5" font-size="12.4">anti-</text>
<text x="116" y="375.7" font-size="12.4">Rh30</text>
<path d="M32.69 458.17 L35.24 453.08 L37.78 446.31 L40.32 439.53 L42.86 432.75 L44.56 424.27 L45.24 428 L45.92 423.59 L46.59 427.66 L47.1 422.58 L48.8 415.8 L51.34 405.63 L53.03 397.15 L55.58 394.61 L58.12 392.92 L59.47 381.9 L61.51 386.14 L64.05 388.68 L66.59 393.76 L69.14 394.61 L71.68 392.92 L72.53 388.68 L73.2 393.42 L73.88 388.68 L74.56 393.42 L75.24 388.68 L75.92 393.42 L76.76 388.68 L77.61 397.15 L79.31 399.69 L81 391.22 L82.19 398.85 L83.54 409.02 L84.9 417.49 L86.93 420.88 L88.63 427.66 L90.66 431.05 L92.86 436.14 L95.07 441.22 L97.1 446.31 L99.64 449.69 L102.19 453.93 L105.58 456.47 L108.97 455.63 L111 458.17" fill="none" stroke="#111" stroke-width="1.2" stroke-dasharray="1 1" stroke-linejoin="round" shape-rendering="crispEdges"/>
<path d="M31.85 456.47 L33.54 448 L35.24 432.75 L36.93 415.8 L38.63 395.46 L40.32 375.12 L42.02 361.56 L43.71 353.08 L45.41 350.03 L47.1 351.39 L48.8 350.54 L50.49 356.47 L52.19 359.86 L53.88 366.64 L55.58 370.03 L57.27 381.9 L58.97 388.68 L60.66 397.15 L62.36 407.32 L64.05 415.8 L65.75 422.58 L68.29 424.27 L70.32 431.05 L71.68 426.81 L73.37 429.36 L74.73 426.81 L76.42 434.44 L78.46 440.37 L80.15 444.61 L81.51 440.37 L83.2 449.69 L85.24 452.24 L87.78 454.78 L91.17 456.14 L94.56 456.47 L97.95 456.14 L98.8 459.02" fill="none" stroke="#111" stroke-width="1.45" stroke-linejoin="round" shape-rendering="crispEdges"/>
</g>
<g id="panel8">
<path d="M213.7 459.55 V349 H330.15 V459.55" fill="none" stroke="#111" stroke-width="1.2"/>
<path d="M213.1 459.5 H330.75" fill="none" stroke="#111" stroke-width="2"/>
<path d="M213.7 458.85h-4.9M213.7 455.39h-2.7M213.7 451.94h-2.7M213.7 448.48h-2.7M213.7 445.03h-2.7M213.7 441.57h-4.6M213.7 438.11h-2.7M213.7 434.66h-2.7M213.7 431.2h-2.7M213.7 427.75h-2.7M213.7 424.29h-4.9M213.7 420.83h-2.7M213.7 417.38h-2.7M213.7 413.92h-2.7M213.7 410.47h-2.7M213.7 407.01h-4.6M213.7 403.55h-2.7M213.7 400.1h-2.7M213.7 396.64h-2.7M213.7 393.19h-2.7M213.7 389.73h-4.9M213.7 386.27h-2.7M213.7 382.82h-2.7M213.7 379.36h-2.7M213.7 375.91h-2.7M213.7 372.45h-4.6M213.7 368.99h-2.7M213.7 365.54h-2.7M213.7 362.08h-2.7M213.7 358.63h-2.7M213.7 355.17h-4.9M213.7 351.71h-2.7" fill="none" stroke="#000" stroke-width="1.15"/>
<path d="M214.2 459.55v4.6M222.84 459.55v3.1M227.89 459.55v3.1M231.48 459.55v3.1M234.26 459.55v3.1M236.53 459.55v3.1M238.45 459.55v3.1M240.12 459.55v3.1M241.59 459.55v3.1M242.9 459.55v4.6M251.54 459.55v3.1M256.59 459.55v3.1M260.18 459.55v3.1M262.96 459.55v3.1M265.23 459.55v3.1M267.15 459.55v3.1M268.82 459.55v3.1M270.29 459.55v3.1M271.6 459.55v4.6M280.24 459.55v3.1M285.29 459.55v3.1M288.88 459.55v3.1M291.66 459.55v3.1M293.93 459.55v3.1M295.85 459.55v3.1M297.52 459.55v3.1M298.99 459.55v3.1M300.3 459.55v4.6M308.94 459.55v3.1M313.99 459.55v3.1M317.58 459.55v3.1M320.36 459.55v3.1M322.63 459.55v3.1M324.55 459.55v3.1M326.22 459.55v3.1M327.69 459.55v3.1M329 459.55v4.6" fill="none" stroke="#000" stroke-width="1.3"/>
<text transform="translate(207.2 474.45) scale(0.86 1)" font-size="9.8">10</text>
<text transform="translate(217.2 469.55) scale(0.86 1)" font-size="9.8">0</text>
<text transform="translate(235.9 474.45) scale(0.86 1)" font-size="9.8">10</text>
<text transform="translate(245.9 469.55) scale(0.86 1)" font-size="9.8">1</text>
<text transform="translate(264.6 474.45) scale(0.86 1)" font-size="9.8">10</text>
<text transform="translate(274.6 469.55) scale(0.86 1)" font-size="9.8">2</text>
<text transform="translate(293.3 474.45) scale(0.86 1)" font-size="9.8">10</text>
<text transform="translate(303.3 469.55) scale(0.86 1)" font-size="9.8">3</text>
<text transform="translate(322 474.45) scale(0.86 1)" font-size="9.8">10</text>
<text transform="translate(332 469.55) scale(0.86 1)" font-size="9.8">4</text>
<text transform="translate(205.8 458.85) rotate(-90) scale(1 1)" text-anchor="middle" font-size="9.7">0</text>
<text transform="translate(205.8 424.29) rotate(-90) scale(1 1)" text-anchor="middle" font-size="9.7">20</text>
<text transform="translate(205.8 389.73) rotate(-90) scale(1 1)" text-anchor="middle" font-size="9.7">40</text>
<text transform="translate(205.8 355.17) rotate(-90) scale(1 1)" text-anchor="middle" font-size="9.7">60</text>
<text transform="translate(193.1 390.3) rotate(-90)" font-size="12.7">counts</text>
<text x="331.15" y="486.15" text-anchor="end" font-size="12">FL1</text>
<text transform="translate(269.5 492.2) scale(1.05 1)" text-anchor="middle" font-size="15.5">(8)</text>
<text x="295.3" y="360.8" font-size="12.4">anti-</text>
<text x="295.3" y="375.2" font-size="12.4">RhGP</text>
<path d="M235.95 457.32 L239.34 454.78 L242.73 451.39 L245.27 448 L246.97 442.92 L249.17 439.53 L251.2 431.05 L253.75 425.97 L255.44 415.8 L257.14 398.85 L258.83 385.29 L259.85 381.22 L260.53 387.32 L261.2 380.54 L261.88 388 L262.56 380.2 L263.41 364.95 L264.76 370.03 L267.31 369.19 L269.34 370.03 L270.69 378.51 L273.24 379.36 L274.93 388.68 L277.47 397.15 L279.17 409.02 L280.86 420.88 L282.56 432.75 L284.25 444.61 L285.95 449.69 L287.64 455.63 L290.19 457.32 L293.58 458.17" fill="none" stroke="#111" stroke-width="1.2" stroke-dasharray="1 1" stroke-linejoin="round" shape-rendering="crispEdges"/>
<path d="M219.85 457.83 L224.08 457.32 L226.63 456.47 L229.17 455.12 L231.71 456.47 L235.1 455.63 L237.64 453.93 L240.19 449.69 L242.73 442.92 L245.27 434.44 L247.81 422.58 L249.51 415.8 L251.2 405.63 L252.9 395.46 L254.59 385.29 L256.29 376.81 L257.98 370.03 L259.68 361.56 L261.37 353.93 L263.07 350.54 L264.42 354.78 L265.61 364.95 L267.31 376.81 L269 386.98 L270.69 398.85 L271.88 410.71 L272.9 415.8 L274.08 425.97 L275.78 437.83 L277.47 444.61 L279.17 449.69 L280.86 453.08 L283.07 456.14 L285.95 457.32 L290.19 458.17" fill="none" stroke="#111" stroke-width="1.45" stroke-linejoin="round" shape-rendering="crispEdges"/>
</g>
<g id="panel9">
<path d="M395.6 459.35 V349.2 H511.7 V459.35" fill="none" stroke="#111" stroke-width="1.2"/>
<path d="M395 459.3 H512.3" fill="none" stroke="#111" stroke-width="2"/>
<path d="M395.6 458.65h-4.9M395.6 455.52h-2.7M395.6 452.39h-2.7M395.6 449.26h-2.7M395.6 446.13h-2.7M395.6 443h-4.6M395.6 439.87h-2.7M395.6 436.74h-2.7M395.6 433.61h-2.7M395.6 430.48h-2.7M395.6 427.35h-4.9M395.6 424.22h-2.7M395.6 421.09h-2.7M395.6 417.96h-2.7M395.6 414.83h-2.7M395.6 411.7h-4.6M395.6 408.57h-2.7M395.6 405.44h-2.7M395.6 402.31h-2.7M395.6 399.18h-2.7M395.6 396.05h-4.9M395.6 392.92h-2.7M395.6 389.79h-2.7M395.6 386.66h-2.7M395.6 383.53h-2.7M395.6 380.4h-4.6M395.6 377.27h-2.7M395.6 374.14h-2.7M395.6 371.01h-2.7M395.6 367.88h-2.7M395.6 364.75h-4.9M395.6 361.62h-2.7M395.6 358.49h-2.7M395.6 355.36h-2.7M395.6 352.23h-2.7" fill="none" stroke="#000" stroke-width="1.15"/>
<path d="M396.1 459.35v4.6M404.74 459.35v3.1M409.79 459.35v3.1M413.38 459.35v3.1M416.16 459.35v3.1M418.43 459.35v3.1M420.35 459.35v3.1M422.02 459.35v3.1M423.49 459.35v3.1M424.8 459.35v4.6M433.44 459.35v3.1M438.49 459.35v3.1M442.08 459.35v3.1M444.86 459.35v3.1M447.13 459.35v3.1M449.05 459.35v3.1M450.72 459.35v3.1M452.19 459.35v3.1M453.5 459.35v4.6M462.14 459.35v3.1M467.19 459.35v3.1M470.78 459.35v3.1M473.56 459.35v3.1M475.83 459.35v3.1M477.75 459.35v3.1M479.42 459.35v3.1M480.89 459.35v3.1M482.2 459.35v4.6M490.84 459.35v3.1M495.89 459.35v3.1M499.48 459.35v3.1M502.26 459.35v3.1M504.53 459.35v3.1M506.45 459.35v3.1M508.12 459.35v3.1M509.59 459.35v3.1M510.9 459.35v4.6" fill="none" stroke="#000" stroke-width="1.3"/>
<text transform="translate(389.1 474.25) scale(0.86 1)" font-size="9.8">10</text>
<text transform="translate(399.1 469.35) scale(0.86 1)" font-size="9.8">0</text>
<text transform="translate(417.8 474.25) scale(0.86 1)" font-size="9.8">10</text>
<text transform="translate(427.8 469.35) scale(0.86 1)" font-size="9.8">1</text>
<text transform="translate(446.5 474.25) scale(0.86 1)" font-size="9.8">10</text>
<text transform="translate(456.5 469.35) scale(0.86 1)" font-size="9.8">2</text>
<text transform="translate(475.2 474.25) scale(0.86 1)" font-size="9.8">10</text>
<text transform="translate(485.2 469.35) scale(0.86 1)" font-size="9.8">3</text>
<text transform="translate(503.9 474.25) scale(0.86 1)" font-size="9.8">10</text>
<text transform="translate(513.9 469.35) scale(0.86 1)" font-size="9.8">4</text>
<text transform="translate(387.7 458.65) rotate(-90) scale(1 1)" text-anchor="middle" font-size="9.7">0</text>
<text transform="translate(387.7 427.35) rotate(-90) scale(1 1)" text-anchor="middle" font-size="9.7">20</text>
<text transform="translate(387.7 396.05) rotate(-90) scale(1 1)" text-anchor="middle" font-size="9.7">40</text>
<text transform="translate(387.7 364.75) rotate(-90) scale(1 1)" text-anchor="middle" font-size="9.7">60</text>
<text transform="translate(375 390.5) rotate(-90)" font-size="12.7">counts</text>
<text x="512.7" y="485.95" text-anchor="end" font-size="12">FL1</text>
<text transform="translate(452.6 492.2) scale(1.05 1)" text-anchor="middle" font-size="15.5">(9)</text>
<text x="484.3" y="360.7" font-size="12.4">anti-</text>
<text x="484.3" y="375" font-size="12.4">LW</text>
<path d="M399.39 457.32 L402.78 453.08 L405.32 446.31 L407.86 436.14 L410.41 424.27 L412.95 415.8 L414.64 405.63 L416.34 395.46 L418.03 386.98 L419.73 381.9 L421.42 378.51 L422.78 368.34 L424.81 373.42 L425.66 377.15 L426.34 381.9 L427.02 376.47 L427.69 382.24 L428.2 381.9 L429.9 388.68 L431.93 395.46 L433.63 402.24 L435.32 410.71 L436.68 417.49 L438.37 424.27 L440.07 432.75 L441.76 441.22 L443.8 448 L446 453.08 L448.54 454.78 L451.08 454.44 L452.78 457.83" fill="none" stroke="#111" stroke-width="1.2" stroke-dasharray="1 1" stroke-linejoin="round" shape-rendering="crispEdges"/>
<path d="M396.85 457.32 L399.39 455.63 L401.93 449.69 L403.63 439.53 L405.32 422.58 L407.02 405.63 L408.71 388.68 L410.41 373.42 L411.59 367.49 L412.95 368.34 L413.8 359.86 L414.98 350.54 L416.34 353.08 L418.03 356.47 L419.73 361.56 L421.08 370.03 L422.27 381.9 L423.97 395.46 L425.66 409.02 L427.36 420.88 L429.05 431.05 L430.75 437.83 L432.44 442.92 L434.98 448 L437.53 451.39 L440.07 454.44 L443.46 456.81 L446.85 458.17" fill="none" stroke="#111" stroke-width="1.45" stroke-linejoin="round" shape-rendering="crispEdges"/>
</g>
<g id="panel10">
<path d="M31 632.65 V522.2 H147.5 V632.65" fill="none" stroke="#111" stroke-width="1.2"/>
<path d="M30.4 632.6 H148.1" fill="none" stroke="#111" stroke-width="2"/>
<path d="M31 631.95h-4.9M31 629.45h-2.7M31 626.95h-2.7M31 624.46h-2.7M31 621.96h-2.7M31 619.46h-4.6M31 616.96h-2.7M31 614.46h-2.7M31 611.97h-2.7M31 609.47h-2.7M31 606.97h-4.9M31 604.47h-2.7M31 601.97h-2.7M31 599.48h-2.7M31 596.98h-2.7M31 594.48h-4.6M31 591.98h-2.7M31 589.48h-2.7M31 586.99h-2.7M31 584.49h-2.7M31 581.99h-4.9M31 579.49h-2.7M31 576.99h-2.7M31 574.5h-2.7M31 572h-2.7M31 569.5h-4.6M31 567h-2.7M31 564.5h-2.7M31 562.01h-2.7M31 559.51h-2.7M31 557.01h-4.9M31 554.51h-2.7M31 552.01h-2.7M31 549.52h-2.7M31 547.02h-2.7M31 544.52h-4.6M31 542.02h-2.7M31 539.52h-2.7M31 537.03h-2.7M31 534.53h-2.7M31 532.03h-4.9M31 529.53h-2.7M31 527.03h-2.7M31 524.54h-2.7" fill="none" stroke="#000" stroke-width="1.15"/>
<path d="M31.5 632.65v4.6M40.14 632.65v3.1M45.19 632.65v3.1M48.78 632.65v3.1M51.56 632.65v3.1M53.83 632.65v3.1M55.75 632.65v3.1M57.42 632.65v3.1M58.89 632.65v3.1M60.2 632.65v4.6M68.84 632.65v3.1M73.89 632.65v3.1M77.48 632.65v3.1M80.26 632.65v3.1M82.53 632.65v3.1M84.45 632.65v3.1M86.12 632.65v3.1M87.59 632.65v3.1M88.9 632.65v4.6M97.54 632.65v3.1M102.59 632.65v3.1M106.18 632.65v3.1M108.96 632.65v3.1M111.23 632.65v3.1M113.15 632.65v3.1M114.82 632.65v3.1M116.29 632.65v3.1M117.6 632.65v4.6M126.24 632.65v3.1M131.29 632.65v3.1M134.88 632.65v3.1M137.66 632.65v3.1M139.93 632.65v3.1M141.85 632.65v3.1M143.52 632.65v3.1M144.99 632.65v3.1M146.3 632.65v4.6" fill="none" stroke="#000" stroke-width="1.3"/>
<text transform="translate(24.5 647.55) scale(0.86 1)" font-size="9.8">10</text>
<text transform="translate(34.5 642.65) scale(0.86 1)" font-size="9.8">0</text>
<text transform="translate(53.2 647.55) scale(0.86 1)" font-size="9.8">10</text>
<text transform="translate(63.2 642.65) scale(0.86 1)" font-size="9.8">1</text>
<text transform="translate(81.9 647.55) scale(0.86 1)" font-size="9.8">10</text>
<text transform="translate(91.9 642.65) scale(0.86 1)" font-size="9.8">2</text>
<text transform="translate(110.6 647.55) scale(0.86 1)" font-size="9.8">10</text>
<text transform="translate(120.6 642.65) scale(0.86 1)" font-size="9.8">3</text>
<text transform="translate(139.3 647.55) scale(0.86 1)" font-size="9.8">10</text>
<text transform="translate(149.3 642.65) scale(0.86 1)" font-size="9.8">4</text>
<text transform="translate(23.1 631.95) rotate(-90) scale(1 1)" text-anchor="middle" font-size="9.7">0</text>
<text transform="translate(23.1 606.97) rotate(-90) scale(1 1)" text-anchor="middle" font-size="9.7">20</text>
<text transform="translate(23.1 581.99) rotate(-90) scale(1 1)" text-anchor="middle" font-size="9.7">40</text>
<text transform="translate(23.1 557.01) rotate(-90) scale(1 1)" text-anchor="middle" font-size="9.7">60</text>
<text transform="translate(23.1 532.03) rotate(-90) scale(1 1)" text-anchor="middle" font-size="9.7">80</text>
<text transform="translate(10.4 563.5) rotate(-90)" font-size="12.7">counts</text>
<text x="148.5" y="659.25" text-anchor="end" font-size="12">FL1</text>
<text transform="translate(85.1 668.4) scale(1.05 1)" text-anchor="middle" font-size="15.5">(10)</text>
<text x="115.3" y="533.8" font-size="12.4">anti-</text>
<text x="115.3" y="548.3" font-size="12.4">CD47</text>
<path d="M59.73 630.32 L63.12 626.08 L65.15 621 L66.85 612.53 L68.54 598.97 L70.24 585.41 L71.93 571.85 L73.63 558.29 L75.32 544.73 L77.02 531.17 L78.37 524.39 L79.73 523.54 L80.92 531.17 L82.1 543.03 L83.46 554.9 L84.81 570.15 L86 582.02 L87.19 593.88 L88.54 604.05 L90.24 614.22 L91.93 621 L93.97 625.24 L96.17 628.63 L99.56 630.32" fill="none" stroke="#111" stroke-width="1.2" stroke-dasharray="1 1" stroke-linejoin="round" shape-rendering="crispEdges"/>
<path d="M39.39 631.17 L46.17 630.83 L52.95 630.83 L57.19 629.47 L59.73 626.08 L61.76 621 L63.46 614.22 L65.15 604.05 L66.85 592.19 L68.54 576.93 L70.24 565.07 L71.93 553.2 L73.63 541.34 L75.32 536.25 L76.68 532.86 L78.37 539.64 L79.73 548.12 L81.42 559.98 L83.12 575.24 L84.81 588.8 L86.51 600.66 L88.2 610.83 L89.9 617.61 L91.93 622.69 L94.47 626.93 L97.02 629.14 L101.25 629.81 L105.49 630.83 L110.58 631.17 L114.81 631.51" fill="none" stroke="#111" stroke-width="1.45" stroke-linejoin="round" shape-rendering="crispEdges"/>
</g>
<g id="panel11">
<path d="M213.5 632.35 V521.5 H330.15 V632.35" fill="none" stroke="#111" stroke-width="1.2"/>
<path d="M212.9 632.3 H330.75" fill="none" stroke="#111" stroke-width="2"/>
<path d="M213.5 631.65h-4.9M213.5 627.56h-2.7M213.5 623.47h-2.7M213.5 619.39h-2.7M213.5 615.3h-2.7M213.5 611.21h-4.9M213.5 607.12h-2.7M213.5 603.03h-2.7M213.5 598.95h-2.7M213.5 594.86h-2.7M213.5 590.77h-4.9M213.5 586.68h-2.7M213.5 582.59h-2.7M213.5 578.51h-2.7M213.5 574.42h-2.7M213.5 570.33h-4.9M213.5 566.24h-2.7M213.5 562.15h-2.7M213.5 558.07h-2.7M213.5 553.98h-2.7M213.5 549.89h-4.9M213.5 545.8h-2.7M213.5 541.71h-2.7M213.5 537.63h-2.7M213.5 533.54h-2.7M213.5 529.45h-4.9M213.5 525.36h-2.7" fill="none" stroke="#000" stroke-width="1.15"/>
<path d="M214 632.35v4.6M222.64 632.35v3.1M227.69 632.35v3.1M231.28 632.35v3.1M234.06 632.35v3.1M236.33 632.35v3.1M238.25 632.35v3.1M239.92 632.35v3.1M241.39 632.35v3.1M242.7 632.35v4.6M251.34 632.35v3.1M256.39 632.35v3.1M259.98 632.35v3.1M262.76 632.35v3.1M265.03 632.35v3.1M266.95 632.35v3.1M268.62 632.35v3.1M270.09 632.35v3.1M271.4 632.35v4.6M280.04 632.35v3.1M285.09 632.35v3.1M288.68 632.35v3.1M291.46 632.35v3.1M293.73 632.35v3.1M295.65 632.35v3.1M297.32 632.35v3.1M298.79 632.35v3.1M300.1 632.35v4.6M308.74 632.35v3.1M313.79 632.35v3.1M317.38 632.35v3.1M320.16 632.35v3.1M322.43 632.35v3.1M324.35 632.35v3.1M326.02 632.35v3.1M327.49 632.35v3.1M328.8 632.35v4.6" fill="none" stroke="#000" stroke-width="1.3"/>
<text transform="translate(207 647.25) scale(0.86 1)" font-size="9.8">10</text>
<text transform="translate(217 642.35) scale(0.86 1)" font-size="9.8">0</text>
<text transform="translate(235.7 647.25) scale(0.86 1)" font-size="9.8">10</text>
<text transform="translate(245.7 642.35) scale(0.86 1)" font-size="9.8">1</text>
<text transform="translate(264.4 647.25) scale(0.86 1)" font-size="9.8">10</text>
<text transform="translate(274.4 642.35) scale(0.86 1)" font-size="9.8">2</text>
<text transform="translate(293.1 647.25) scale(0.86 1)" font-size="9.8">10</text>
<text transform="translate(303.1 642.35) scale(0.86 1)" font-size="9.8">3</text>
<text transform="translate(321.8 647.25) scale(0.86 1)" font-size="9.8">10</text>
<text transform="translate(331.8 642.35) scale(0.86 1)" font-size="9.8">4</text>
<text transform="translate(205.6 631.65) rotate(-90) scale(1 1)" text-anchor="middle" font-size="9.7">0</text>
<text transform="translate(205.6 611.21) rotate(-90) scale(1 1)" text-anchor="middle" font-size="9.7">20</text>
<text transform="translate(205.6 590.77) rotate(-90) scale(1 1)" text-anchor="middle" font-size="9.7">40</text>
<text transform="translate(205.6 570.33) rotate(-90) scale(1 1)" text-anchor="middle" font-size="9.7">60</text>
<text transform="translate(205.6 549.89) rotate(-90) scale(1 1)" text-anchor="middle" font-size="9.7">80</text>
<text transform="translate(205.6 529.45) rotate(-90) scale(1 1)" text-anchor="middle" font-size="9.7">100</text>
<text transform="translate(192.9 562.8) rotate(-90)" font-size="12.7">counts</text>
<text x="331.15" y="658.95" text-anchor="end" font-size="12">FL1</text>
<text transform="translate(269.2 668.4) scale(1.05 1)" text-anchor="middle" font-size="15.5">(11)</text>
<text x="302.3" y="533.8" font-size="12.4">anti-</text>
<text x="302.3" y="548.2" font-size="12.4">Fy3</text>
<path d="M216.54 629.47 L217.73 622.69 L219.08 609.14 L220.44 597.27 L221.63 583.71 L222.81 568.46 L223.83 554.9 L224.85 546.76 L225.53 544.73 L226.54 544.39 L227.39 546.42 L228.07 552.53 L228.92 552.86 L229.42 563.37 L229.93 553.2 L230.44 564.39 L230.95 554.56 L231.46 565.41 L231.8 565.07 L234 566.76 L234.68 578.63 L235.69 588.8 L236.88 597.27 L238.07 605.75 L239.42 610.83 L241.12 617.61 L242.81 620.15 L244.51 623.54 L247.05 625.24 L250.44 626.08 L253.83 628.12 L258.07 629.81 L263.15 630.83 L268.24 631.51" fill="none" stroke="#111" stroke-width="1.2" stroke-dasharray="1 1" stroke-linejoin="round" shape-rendering="crispEdges"/>
<path d="M214.85 627.78 L216.03 619.31 L217.39 607.44 L218.75 592.19 L219.93 576.93 L221.12 559.98 L222.47 543.03 L223.83 529.47 L225.19 522.69 L226.2 527.78 L227.22 541.34 L228.41 554.9 L229.59 570.15 L230.95 585.41 L232.31 598.97 L233.66 609.14 L235.19 615.92 L236.88 621 L239.08 624.05 L241.97 624.73 L244.51 625.24 L247.05 626.08 L249.59 626.93 L252.14 628.12 L255.53 629.47 L258.92 630.32 L263.15 631.17 L268.24 632.02" fill="none" stroke="#111" stroke-width="1.45" stroke-linejoin="round" shape-rendering="crispEdges"/>
</g>
<g id="legend">
<path d="M351 564.1H414" stroke="#111" stroke-width="2" fill="none"/>
<path d="M352 591.5H410" stroke="#111" stroke-width="1.7" stroke-dasharray="1.7 6.27" fill="none"/>
<text x="419.5" y="567.6" font-size="12.45">= K562/pBp</text>
<text x="419.5" y="595.1" font-size="12.45">= K562/B3 clone 1</text>
</g>
</svg></body></html>
